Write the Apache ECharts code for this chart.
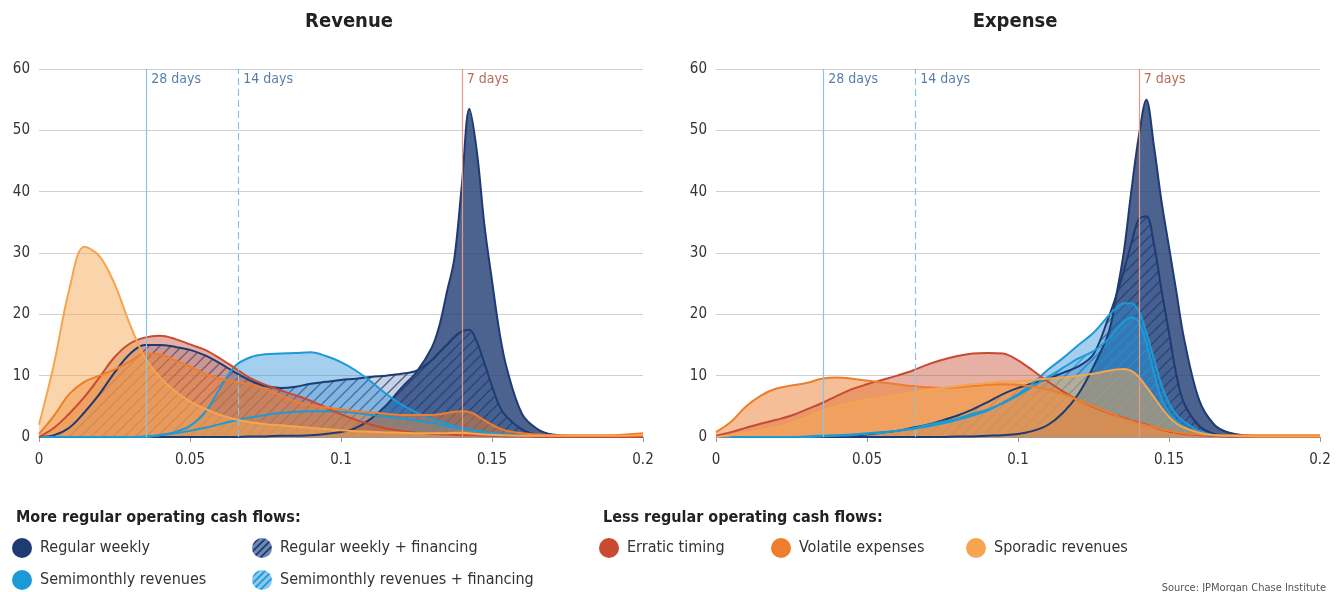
<!DOCTYPE html>
<html>
<head>
<meta charset="utf-8">
<script src="https://cdn.jsdelivr.net/npm/echarts@6/dist/echarts.min.js"></script>
<style>
html,body{margin:0;padding:0;background:#fff;}
#chart{width:1337px;height:592px;}
</style>
</head>
<body>
<div id="chart"></div>
<script>
// ---------- DATA ----------
const xValues = [0,0.005,0.01,0.015,0.02,0.025,0.03,0.035,0.04,0.045,0.05,0.055,0.06,0.065,0.07,0.075,0.08,0.085,0.09,0.095,0.1,0.105,0.11,0.115,0.12,0.125,0.13,0.1325,0.135,0.1375,0.14,0.1425,0.145,0.1475,0.15,0.1525,0.155,0.16,0.165,0.17,0.18,0.19,0.2];

// Revenue panel
const revRegularWeekly = [0,0,0,0,0,0,0,0,0,0, 0,0,0,0,0.1,0.1,0.2,0.2,0.3,0.5, 0.8,1.5,3,5.2,8,10.6,14.5, 18,23.5,29,41,53.5,46.5,34.5,25.5,17,11, 3.7,1.3,0.4,0.1,0,0];
const revWeeklyFinancing = [0,0.3,1.5,4,7,10.5,13.5,15,15,14.7, 14.2,13.3,12,10.5,9.2,8.3,8,8.2,8.7,9, 9.3,9.5,9.8,10,10.3,10.8,12.5, 13.8,15,16.3,17.2,17.5,15.5,12,8.3,5,3.2, 1.2,0.3,0.1,0,0,0];
const revSemimonthly = [0,0,0,0,0,0,0,0,0.3,0.8, 1.8,4,8,11.6,13,13.5,13.6,13.7,13.8,13.2, 12.2,10.8,9,7,5.3,4,3, 2.6,2.2,1.8,1.5,1.2,1,0.8,0.6,0.5,0.3, 0.2,0.1,0,0,0,0];
const revSemiFinancing = [0,0,0,0,0,0,0,0.1,0.3,0.6, 1,1.5,2.1,2.7,3.2,3.6,3.9,4.1,4.2,4.2, 4.1,3.9,3.6,3.3,3,2.7,2.3, 2,1.8,1.6,1.4,1.2,1,0.8,0.6,0.5,0.4, 0.2,0.1,0,0,0,0];
const revErratic = [0,1.5,3.8,6.5,9.7,13,15.2,16.2,16.5,16, 15.1,14.2,12.8,11.2,9.6,8.5,7.6,6.8,5.9,4.8, 3.7,2.8,2,1.4,1,0.7,0.5, 0.45,0.4,0.35,0.3,0.3,0.25,0.2,0.2,0.15,0.1, 0.1,0.05,0,0,0,0];
const revVolatile = [0.5,3.5,7,9,10,11,12.3,13.6,13.5,12.5, 11.5,10.3,9.5,9,8.6,7.8,6.8,5.8,5.2,4.8, 4.5,4.2,4,3.8,3.6,3.6,3.6, 3.7,3.9,4.1,4.2,4.1,3.5,2.7,2,1.4,1, 0.6,0.4,0.3,0.3,0.3,0.6];
const revSporadic = [2,12,24,31,29.5,25,18.5,13,9.8,7.5, 5.8,4.6,3.6,2.9,2.4,2.1,1.9,1.7,1.5,1.3, 1.1,0.95,0.85,0.75,0.7,0.6,0.6, 0.6,0.6,0.7,0.7,0.6,0.5,0.4,0.35,0.3,0.25, 0.2,0.2,0.2,0.2,0.2,0.3];

// Expense panel
const expRegularWeekly = [0,0,0,0,0,0,0,0,0,0, 0,0,0,0,0,0,0.1,0.1,0.2,0.3, 0.5,1,2,4,7,11.5,17, 23,30,40,49,55,47.5,38.5,31,23.5,16, 6,2,0.7,0.1,0,0];
const expWeeklyFinancing = [0,0,0,0,0,0,0,0,0.1,0.2, 0.4,0.7,1,1.5,2,2.7,3.5,4.5,5.7,7, 8,8.8,9.5,10.5,11.5,13.5,19.5, 23,27,31.5,35.5,36,31.5,24,17,10,5.5, 1.8,0.5,0.2,0,0,0];
const expSemimonthly = [0,0,0,0,0,0,0.1,0.2,0.3,0.4, 0.6,0.8,1,1.3,1.7,2.2,2.8,3.5,4.3,5.6, 7,8.8,11,12.9,15,17,19.8, 21,21.8,21.8,20.5,17,12.8,8.5,5.5,3.6,2.5, 1,0.3,0.1,0,0,0];
const expSemiFinancing = [0,0,0,0,0,0,0,0.1,0.2,0.3, 0.5,0.7,1,1.4,2,2.5,3,3.8,4.5,5.5, 6.8,8.3,9.8,11.3,12.8,14,16, 17.5,18.8,19.5,18.8,15.3,10.5,6.2,4,2.6,1.7, 0.6,0.2,0.1,0,0,0];
const expErratic = [0.2,0.8,1.5,2.2,2.8,3.5,4.5,5.5,6.7,7.8, 8.6,9.3,10,10.8,11.8,12.6,13.2,13.6,13.7,13.6, 12.5,10.8,9,7.4,6,4.9,3.9, 3.5,3.1,2.7,2.3,2,1.6,1.2,0.9,0.7,0.5, 0.3,0.15,0.1,0,0,0];
const expVolatile = [0.8,2.5,5,6.8,7.9,8.4,8.8,9.5,9.7,9.5, 9.2,8.9,8.6,8.3,8.1,8,8.1,8.3,8.5,8.6, 8.5,8.2,7.7,7,6,5,4, 3.5,3,2.6,2.2,1.9,1.6,1.3,1,0.8,0.6, 0.4,0.3,0.3,0.3,0.3,0.3];
const expSporadic = [0,0.3,0.7,1.1,1.6,2.3,3.2,4.2,5,5.6, 6.1,6.5,6.9,7.3,7.7,8,8.3,8.6,8.8,9, 9.1,9.3,9.5,9.7,10,10.3,10.8, 11,11.1,10.8,9.8,8.2,6.5,4.8,3.3,2.2,1.5, 0.7,0.3,0.2,0.1,0.1,0.1];

// Reference lines (cycle length markers)
const markerValues = [0.0355, 0.066, 0.140];
const markerLabels = ['28 days', '14 days', '7 days'];

// Axis ticks
const xTicks = [0, 0.05, 0.1, 0.15, 0.2];
const yTicks = [0, 10, 20, 30, 40, 50, 60];

const panelTitles = ['Revenue', 'Expense'];
const seriesNames = ['Regular weekly','Regular weekly + financing','Semimonthly revenues','Semimonthly revenues + financing','Erratic timing','Volatile expenses','Sporadic revenues'];
const revenueSeries = [revRegularWeekly, revWeeklyFinancing, revSemimonthly, revSemiFinancing, revErratic, revVolatile, revSporadic];
const expenseSeries = [expRegularWeekly, expWeeklyFinancing, expSemimonthly, expSemiFinancing, expErratic, expVolatile, expSporadic];

// ---------- STYLE ----------
const FONT = "'Liberation Sans Narrow','DejaVu Sans Condensed','Open Sans',sans-serif";

function hatch(bg, stroke, size, lw) {
  const c = document.createElement('canvas');
  c.width = size; c.height = size;
  const g = c.getContext('2d');
  g.fillStyle = bg; g.fillRect(0, 0, size, size);
  g.strokeStyle = stroke; g.lineWidth = lw;
  g.beginPath();
  g.moveTo(-1, size + 1); g.lineTo(size + 1, -1);
  g.moveTo(-size / 2 - 1, size / 2 + 1); g.lineTo(size / 2 + 1, -size / 2 - 1);
  g.moveTo(size / 2 - 1, size * 1.5 + 1); g.lineTo(size * 1.5 + 1, size / 2 - 1);
  g.stroke();
  return c;
}

const styles = [
  { line: '#1f3b73', fill: 'rgba(31,59,115,0.8)' },
  { line: '#1f3b73', fill: { image: hatch('rgba(60,95,155,0.28)', 'rgba(31,59,115,0.75)', 11, 1.4), repeat: 'repeat' } },
  { line: '#1b9ad6', fill: 'rgba(40,140,215,0.42)' },
  { line: '#1b9ad6', fill: { image: hatch('rgba(40,150,220,0.18)', 'rgba(27,154,214,0.85)', 11, 1.4), repeat: 'repeat' } },
  { line: '#c84a32', fill: 'rgba(200,80,55,0.45)' },
  { line: '#ee7d2d', fill: 'rgba(238,125,45,0.5)' },
  { line: '#f5a54f', fill: 'rgba(246,170,85,0.5)' }
];
const legendIcons = [
  '#1f3b73',
  { image: hatch('#6f88b3', '#1f3b73', 7, 1.8), repeat: 'repeat' },
  '#1b9ad6',
  { image: hatch('#8cc9ec', '#1b9ad6', 7, 1.8), repeat: 'repeat' },
  '#c84a32', '#ee7d2d', '#f5a54f'
];
const markerLineStyles = [
  { color: '#8cc3e3', width: 1.2, type: 'solid' },
  { color: '#8cc3e3', width: 1.2, type: [7, 4] },
  { color: '#e59a82', width: 1.2, type: 'solid' }
];
const markerTextColors = ['#2e5e92', '#2e5e92', '#a5432f'];

const grids = [
  { left: 39, top: 69, width: 604, height: 368 },
  { left: 716, top: 69, width: 604, height: 368 }
];

const xAxes = grids.map((g, i) => ({
  type: 'value', gridIndex: i, min: xTicks[0], max: xTicks[xTicks.length - 1], interval: xTicks[1] - xTicks[0],
  axisLine: { show: true, lineStyle: { color: '#9a9a9a', width: 1 } },
  axisTick: { show: true, length: 5, lineStyle: { color: '#9a9a9a' } },
  splitLine: { show: false },
  axisLabel: { color: '#333', fontSize: 15, fontFamily: FONT, margin: 16 }
}));
const yAxes = grids.map((g, i) => ({
  type: 'value', gridIndex: i, min: yTicks[0], max: yTicks[yTicks.length - 1], interval: yTicks[1] - yTicks[0],
  axisLine: { show: false }, axisTick: { show: false },
  splitLine: { lineStyle: { color: '#cfcfcf', width: 1 } },
  axisLabel: { color: '#333', fontSize: 15, fontFamily: FONT, margin: 9 }
}));

const series = [];
[revenueSeries, expenseSeries].forEach((panel, pi) => {
  panel.forEach((arr, si) => {
    series.push({
      name: seriesNames[si], type: 'line', xAxisIndex: pi, yAxisIndex: pi,
      data: xValues.map((x, k) => [x, arr[k]]),
      smooth: 0.35, showSymbol: false, symbol: 'none',
      lineStyle: { color: styles[si].line, width: 2 },
      itemStyle: { color: styles[si].line },
      areaStyle: { color: styles[si].fill, opacity: 1 },
      emphasis: { disabled: true }, animation: false
    });
  });
  series.push({
    type: 'scatter', xAxisIndex: pi, yAxisIndex: pi, symbolSize: 0, silent: true, animation: false,
    data: markerValues.map((v, i) => ({
      value: [v, yTicks[yTicks.length - 1]],
      label: { show: true, position: [5, 3], formatter: markerLabels[i], color: markerTextColors[i], fontSize: 14, fontFamily: FONT }
    })),
    markLine: {
      silent: true, symbol: 'none', animation: false, precision: 5, label: { show: false },
      data: markerValues.map((v, i) => ({ xAxis: v, lineStyle: markerLineStyles[i] }))
    }
  });
});

function legendBlock(left, names, orient) {
  return {
    left: left, top: 538, orient: orient || 'vertical', padding: 0, itemGap: 12,
    itemWidth: 20, itemHeight: 20, icon: 'circle', selectedMode: false,
    textStyle: { fontSize: 16, color: '#333', fontFamily: FONT, padding: [0, 0, 0, 3] },
    data: names.map(n => ({ name: n, icon: 'circle', itemStyle: { color: legendIcons[seriesNames.indexOf(n)], borderWidth: 0 } }))
  };
}

const option = {
  animation: false,
  backgroundColor: '#ffffff',
  textStyle: { fontFamily: FONT },
  title: [
    { text: panelTitles[0], left: 344, top: 7, textAlign: 'center', textStyle: { fontSize: 20, fontWeight: 'bold', color: '#222', fontFamily: FONT } },
    { text: panelTitles[1], left: 1010, top: 7, textAlign: 'center', textStyle: { fontSize: 20, fontWeight: 'bold', color: '#222', fontFamily: FONT } },
    { text: 'More regular operating cash flows:', left: 11, top: 505, textStyle: { fontSize: 16, fontWeight: 'bold', color: '#222', fontFamily: FONT } },
    { text: 'Less regular operating cash flows:', left: 598, top: 505, textStyle: { fontSize: 16, fontWeight: 'bold', color: '#222', fontFamily: FONT } },
    { text: 'Source: JPMorgan Chase Institute', right: 6, top: 578, textStyle: { fontSize: 11, fontWeight: 'normal', color: '#555', fontFamily: FONT } }
  ],
  legend: [
    legendBlock(12, ['Regular weekly', 'Semimonthly revenues']),
    legendBlock(252, ['Regular weekly + financing', 'Semimonthly revenues + financing']),
    legendBlock(599, ['Erratic timing']),
    legendBlock(771, ['Volatile expenses']),
    legendBlock(966, ['Sporadic revenues'])
  ],
  grid: grids,
  xAxis: xAxes,
  yAxis: yAxes,
  series: series
};

const chart = echarts.init(document.getElementById('chart'), null, { renderer: 'canvas' });
chart.setOption(option);
</script>
</body>
</html>
